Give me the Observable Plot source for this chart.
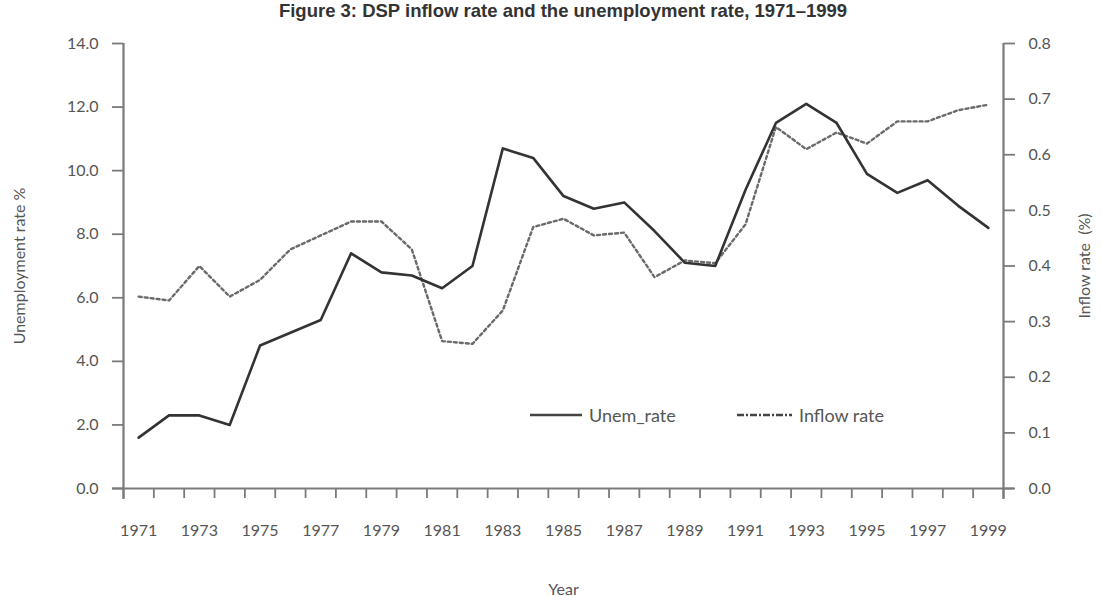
<!DOCTYPE html>
<html>
<head>
<meta charset="utf-8">
<script src="https://cdn.jsdelivr.net/npm/d3@7"></script>
<script src="https://cdn.jsdelivr.net/npm/@observablehq/plot@0.6"></script>
<style>
  body { margin: 0; background: #fff; }
  #wrap { position: relative; width: 1102px; height: 596px; }
  #title {
    width: 1102px; height: 30px; line-height: 36px; box-sizing: border-box;
    padding-left: 24px; text-align: center;
    font: bold 18.5px "Liberation Sans", Arial, sans-serif; color: #333;
  }
  .key { position: absolute; display: flex; align-items: center; font: 18px Lato, sans-serif; color: #555; }
  .key svg { margin-right: 7px; }
</style>
</head>
<body>
<div id="wrap">
  <div id="title">Figure 3: DSP inflow rate and the unemployment rate, 1971–1999</div>
  <div id="chart"></div>
  <div class="key" style="left:530px; top:403px;">
    <svg width="52" height="24"><line x1="0" x2="52" y1="12" y2="12" stroke="#444" stroke-width="2.5"/></svg>Unem_rate
  </div>
  <div class="key" style="left:737px; top:403px;">
    <svg width="55" height="24"><line x1="0" x2="55" y1="12" y2="12" stroke="#444" stroke-width="2.5" stroke-dasharray="7,2,2,2"/></svg>Inflow rate
  </div>
</div>
<script>
// Annual series, 1971–1999
const years = [1971, 1972, 1973, 1974, 1975, 1976, 1977, 1978, 1979, 1980,
               1981, 1982, 1983, 1984, 1985, 1986, 1987, 1988, 1989, 1990,
               1991, 1992, 1993, 1994, 1995, 1996, 1997, 1998, 1999];
// Unemployment rate, %
const unemRate = [1.6, 2.3, 2.3, 2.0, 4.5, 4.9, 5.3, 7.4, 6.8, 6.7,
                  6.3, 7.0, 10.7, 10.4, 9.2, 8.8, 9.0, 8.1, 7.1, 7.0,
                  9.4, 11.5, 12.1, 11.5, 9.9, 9.3, 9.7, 8.9, 8.2];
// DSP inflow rate, %
const inflowRate = [0.345, 0.338, 0.40, 0.345, 0.375, 0.43, 0.455, 0.48, 0.48, 0.43,
                    0.265, 0.26, 0.32, 0.47, 0.485, 0.455, 0.46, 0.38, 0.41, 0.405,
                    0.475, 0.65, 0.61, 0.64, 0.62, 0.66, 0.66, 0.68, 0.69];

// Axis ticks
const leftTicks = [0, 2, 4, 6, 8, 10, 12, 14];
const rightTicks = [0, 0.1, 0.2, 0.3, 0.4, 0.5, 0.6, 0.7, 0.8];
const yearLabels = years.filter(y => y % 2 === 1);

// The inflow rate shares the y scale: 0–0.8 on the right maps onto 0–14 on the left
const k = 14 / 0.8;

const unemData = years.map((year, i) => ({year, value: unemRate[i]}));
const inflowData = years.map((year, i) => ({year, value: inflowRate[i] * k}));
// tick marks sit between the years
const boundaries = [...years.map(y => y - 0.5), years[years.length - 1] + 0.5];

const axisColor = "#7a7a7a";
const textColor = "#555";

const chart = Plot.plot({
  width: 1102,
  height: 566,
  marginTop: 13,
  marginBottom: 108,
  marginLeft: 123,
  marginRight: 99,
  style: {fontFamily: "Lato, sans-serif", fontSize: "16px", color: textColor, background: "#fff"},
  x: {domain: [years[0] - 0.5, years[years.length - 1] + 0.5]},
  y: {domain: [0, 14]},
  marks: [
    Plot.line(inflowData, {x: "year", y: "value", stroke: "#6a6a6a", strokeWidth: 2.4, strokeDasharray: "3,3"}),
    Plot.line(unemData, {x: "year", y: "value", stroke: "#333", strokeWidth: 2.6, strokeLinejoin: "round"}),
    // axis lines
    Plot.ruleY([0], {stroke: axisColor, strokeWidth: 2.2, insetLeft: -11, insetRight: -11}),
    Plot.ruleX([years[0] - 0.5, years[years.length - 1] + 0.5], {stroke: axisColor, strokeWidth: 2.2, insetBottom: -11}),
    // x axis: boundary ticks and year labels
    Plot.axisX({ticks: boundaries, tickSize: 10, tickFormat: () => "", stroke: axisColor, strokeWidth: 1.8, label: null}),
    Plot.axisX({ticks: yearLabels, tickSize: 0, tickPadding: 36, tickFormat: d => String(d), label: "Year",
                labelAnchor: "center", labelOffset: 106, labelArrow: "none"}),
    // left axis: unemployment rate
    Plot.axisY({anchor: "left", ticks: leftTicks, tickSize: 11, tickPadding: 14, tickFormat: d => d.toFixed(1),
                stroke: axisColor, strokeWidth: 1.8, label: "Unemployment rate %", labelAnchor: "center",
                labelOffset: 110, labelArrow: "none"}),
    // right axis: inflow rate
    Plot.axisY({anchor: "right", ticks: rightTicks.map(v => v * k), tickSize: 11, tickPadding: 14,
                tickFormat: d => (d / k).toFixed(1), stroke: axisColor, strokeWidth: 1.8,
                label: "Inflow rate  (%)", labelAnchor: "center", labelOffset: 86, labelArrow: "none"})
  ]
});
document.getElementById("chart").append(chart);
</script>
</body>
</html>
